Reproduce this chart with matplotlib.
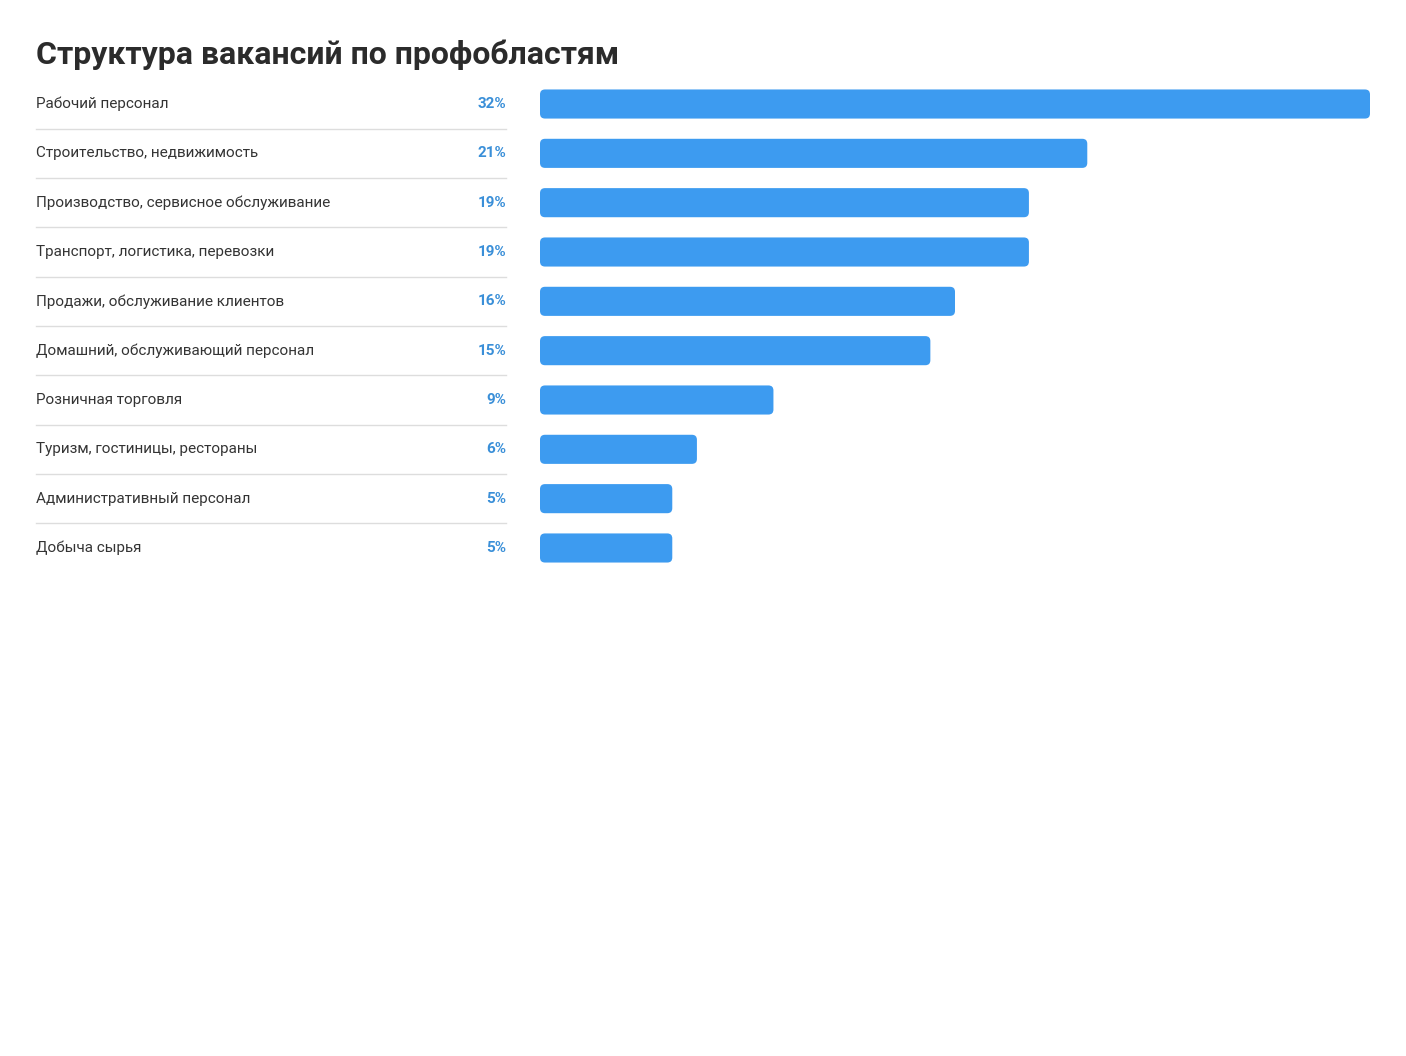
import matplotlib.pyplot as plt
from matplotlib.patches import FancyBboxPatch
from matplotlib.transforms import blended_transform_factory

categories = [
    "Рабочий персонал",
    "Строительство, недвижимость",
    "Производство, сервисное обслуживание",
    "Транспорт, логистика, перевозки",
    "Продажи, обслуживание клиентов",
    "Домашний, обслуживающий персонал",
    "Розничная торговля",
    "Туризм, гостиницы, рестораны",
    "Административный персонал",
    "Добыча сырья",
]
values = [32, 21.1, 18.85, 18.85, 16, 15.05, 9, 6.05, 5.1, 5.1]
labels = ["32%", "21%", "19%", "19%", "16%", "15%", "9%", "6%", "5%", "5%"]

W, H = 1406, 1056
fig = plt.figure(figsize=(W / 100, H / 100), dpi=100)

# bar axes placed in pixel terms
x0, x1 = 540, 1370
ytop, ybot = 104 - 24.65, 548 + 24.65
ax = fig.add_axes([x0 / W, 1 - ybot / H, (x1 - x0) / W, (ybot - ytop) / H])
ax.set_xlim(0, 32)
ax.set_ylim(9.5, -0.5)
ax.axis("off")

bar_h = 0.59
px_x = (x1 - x0) / 32
px_y = (ybot - ytop) / 10
for i, v in enumerate(values):
    r = 5 / px_x
    p = FancyBboxPatch((r, i - bar_h / 2 + r * px_x / px_y), v - 2 * r,
                       bar_h - 2 * r * px_x / px_y,
                       boxstyle=f"round,pad={r},rounding_size={r}",
                       mutation_aspect=px_x / px_y,
                       fc="#3d9bf0", ec="none", clip_on=False)
    ax.add_patch(p)

tr = blended_transform_factory(fig.transFigure, ax.transData)
for i, (c, l) in enumerate(zip(categories, labels)):
    fig.text(36 / W, i, c, transform=tr, va="center", ha="left",
             fontsize=11, color="#333333", family="Roboto")
    fig.text(506 / W, i, l, transform=tr, va="center", ha="right",
             fontsize=11, color="#3a8fd8", weight="bold", family="Roboto")
    if i < len(categories) - 1:
        ax.plot([36 / W, 506 / W], [i + 0.5, i + 0.5], transform=tr,
                color="#dddddd", lw=1, clip_on=False)

fig.text(36 / W, 1 - 55 / H, "Структура вакансий по профобластям",
         fontsize=23, weight="bold", color="#2b2b2b", va="center",
         ha="left", family="Roboto", stretch="condensed")

fig.savefig("out.png", dpi=100, facecolor="white")
